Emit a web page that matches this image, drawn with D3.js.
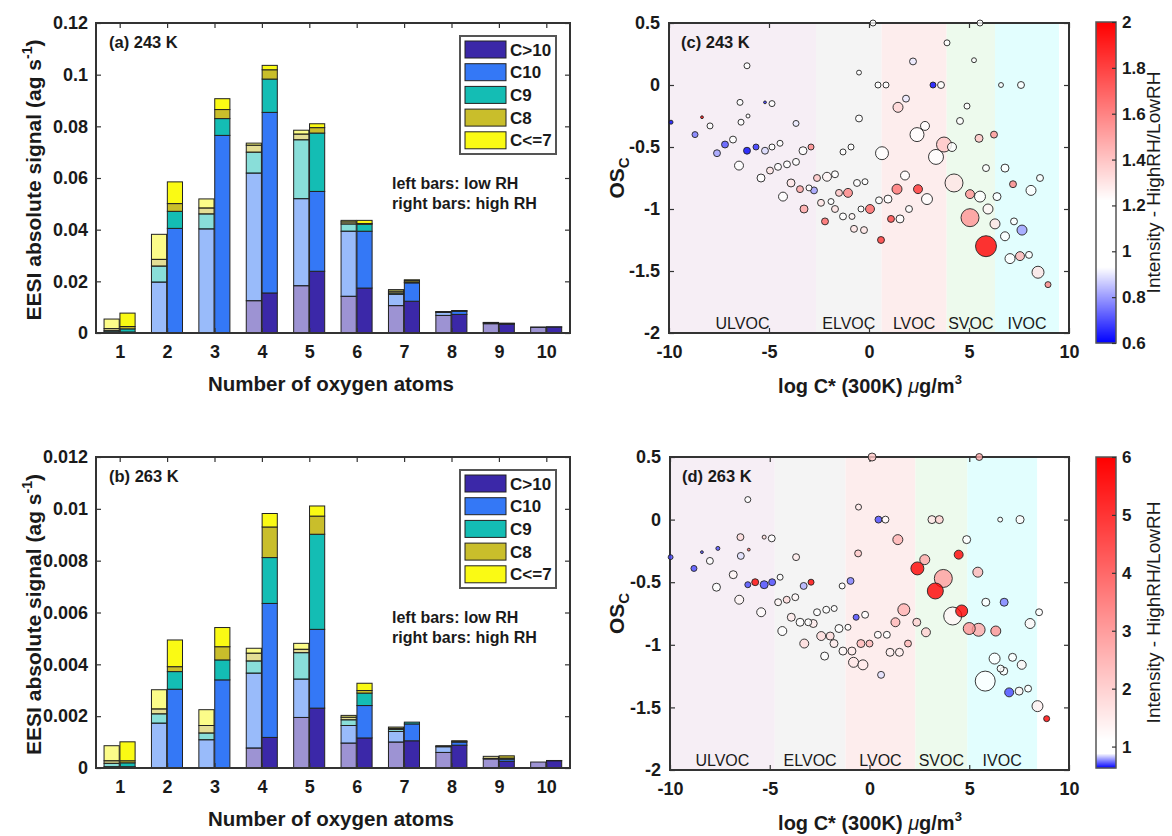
<!DOCTYPE html>
<html>
<head>
<meta charset="utf-8">
<script src="https://cdn.jsdelivr.net/npm/d3@7"></script>
<style>
  body { margin: 0; background: #fff; }
  text { font-family: "Liberation Sans", Arial, Helvetica, sans-serif; fill: #1a1a1a; }
</style>
</head>
<body>
<svg id="fig" width="1172" height="836"></svg>
<script>
// ---- bar data: rows = carbon groups (C>10, C10, C9, C8, C<=7), columns = number of O atoms 1..10
var oxygen = [1, 2, 3, 4, 5, 6, 7, 8, 9, 10];
var groups = ["C>10", "C10", "C9", "C8", "C<=7"];
var groupColors = ["#3b28a8", "#3478f6", "#14bdb4", "#c9be2b", "#fafa14"];

// (a) 243 K
var aLow = [
  [0.0002, 0, 0, 0.0125, 0.0183, 0.0142, 0.0106, 0.0068, 0.0036, 0.0022],
  [0.0002, 0.0197, 0.0403, 0.0494, 0.0337, 0.0252, 0.0044, 0.0012, 0.0004, 0.0001],
  [0.0005, 0.0062, 0.0058, 0.0081, 0.0228, 0.0028, 0.0005, 0.0001, 0.0001, 0],
  [0.0008, 0.0026, 0.0023, 0.0027, 0.0022, 0.0008, 0.0007, 0.0001, 0, 0],
  [0.0037, 0.0097, 0.0035, 0.0008, 0.0015, 0.0006, 0.0006, 0.0001, 0, 0]
];
var aHigh = [
  [0.0002, 0, 0, 0.0155, 0.0239, 0.0174, 0.0123, 0.0072, 0.0034, 0.0023],
  [0.0002, 0.0405, 0.0765, 0.0699, 0.0309, 0.0220, 0.0071, 0.0012, 0.0002, 0.0001],
  [0.0012, 0.0066, 0.0065, 0.0129, 0.0226, 0.0027, 0.0002, 0.0002, 0.0001, 0],
  [0.0009, 0.0030, 0.0035, 0.0036, 0.0021, 0.0003, 0.0006, 0.0001, 0.0001, 0],
  [0.0052, 0.0084, 0.0042, 0.0017, 0.0015, 0.0012, 0.0004, 0, 0, 0]
];
// (b) 263 K
var bLow = [
  [0.00002, 0, 0, 0.00077, 0.00195, 0.00096, 0.00100, 0.00060, 0.00035, 0.00023],
  [0.00003, 0.00173, 0.00109, 0.00289, 0.00148, 0.00068, 0.00041, 0.00022, 0.00002, 0],
  [0.00013, 0.00036, 0.00026, 0.00047, 0.00102, 0.00022, 0.00008, 0.00002, 0, 0],
  [0.00010, 0.00019, 0.00029, 0.00030, 0.00013, 0.00010, 0.00004, 0.00002, 0.00008, 0],
  [0.00058, 0.00074, 0.00061, 0.00019, 0.00023, 0.00007, 0.00005, 0, 0, 0]
];
var bHigh = [
  [0.00003, 0, 0, 0.00118, 0.00231, 0.00116, 0.00105, 0.00088, 0.00026, 0.00028],
  [0.00002, 0.00304, 0.00340, 0.00517, 0.00304, 0.00125, 0.00065, 0.00012, 0.00008, 0.00001],
  [0.00015, 0.00068, 0.00077, 0.00177, 0.00367, 0.00048, 0.00007, 0.00003, 0.00004, 0],
  [0.00008, 0.00019, 0.00051, 0.00118, 0.00070, 0.00010, 0, 0.00002, 0.00009, 0],
  [0.00073, 0.00103, 0.00074, 0.00052, 0.00039, 0.00028, 0, 0, 0, 0]
];
var aYTicks = [0, 0.02, 0.04, 0.06, 0.08, 0.1, 0.12];
var bYTicks = [0, 0.002, 0.004, 0.006, 0.008, 0.01, 0.012];

// ---- scatter data: log C*, OSc, signal (size), ratio HighRH/LowRH (colour)
var cX = [-9.9,-8.7,-8.35,-7.95,-7.6,-7.2,-6.8,-6.5,-6.45,-6.4,-6.1,-6.05,-6.1,-5.65,-5.4,-5.2,-5.2,-4.85,-4.85,-4.95,
  -4.45,-4.55,-4.3,-4.1,-3.9,-3.65,-3.65,-3.45,-3.3,-3.25,-3.0,-2.9,-2.75,-2.6,-2.4,-2.2,-2.1,-1.9,-1.7,-1.7,
  -1.5,-1.3,-1.3,-1.05,-0.9,-0.85,-0.75,-0.5,-0.5,-0.6,-0.25,-0.4,-0.2,0.05,0.2,0.45,0.65,0.5,0.6,0.85,
  0.95,1.4,1.8,1.1,1.55,2.0,1.45,1.85,2.2,2.4,2.8,2.45,2.9,3.2,3.6,3.35,3.75,4.15,3.9,4.25,
  4.55,4.9,5.25,5.55,5.5,6.25,5.05,5.55,5.05,5.85,5.85,5.95,6.3,6.4,6.6,6.8,6.8,7.2,7.25,7.6,
  7.65,8.1,8.55,7.05,7.55,8.0,8.45,8.95];
var cY = [-0.3,-0.4,-0.26,-0.33,-0.55,-0.48,-0.44,-0.65,-0.14,-0.3,0.155,-0.25,-0.53,-0.5,-0.75,-0.14,-0.53,-0.15,-0.5,-0.69,
  -0.47,-0.66,-0.9,-0.64,-0.79,-0.62,-0.31,-0.84,-0.53,-1.0,-0.83,-0.5,-0.85,-0.75,-0.95,-1.1,-0.74,-0.94,-0.72,-1.0,
  -0.87,-1.06,-0.54,-0.87,-0.5,-1.06,-1.16,-0.27,0.1,-0.79,-1.17,-1.0,-0.78,-1.0,0.5,0.0,-0.55,-0.93,-1.25,0.0,
  -0.92,-0.84,-0.73,-1.08,-1.08,-1.0,-0.18,-0.11,0.19,-0.4,-0.33,-0.84,-0.92,0.0,0.0,-0.58,-0.48,-0.5,0.34,-0.79,
  -0.29,-0.17,0.2,0.5,-0.43,-0.4,-0.88,-0.9,-1.07,-1.3,-0.67,-1.0,-1.12,-0.9,0.0,-0.67,-1.22,-0.8,-1.1,0.0,
  -1.17,-0.85,-0.75,-1.4,-1.38,-1.37,-1.51,-1.61];
var cSig = [4,9,2,9,12,12,12,20,9,9,9,4,12,9,16,2,12,9,9,12,
  9,12,20,12,16,12,9,12,16,16,9,9,12,12,12,12,20,9,12,12,
  12,12,9,20,9,9,12,12,6,12,12,9,9,20,9,9,42,12,12,9,
  16,25,20,12,16,12,25,12,12,49,20,20,30,9,12,56,56,20,9,81,
  12,9,6,9,16,12,20,30,81,110,12,25,25,16,6,16,20,12,12,12,
  25,25,12,25,20,12,36,9];
var cRatio = [0.6,0.75,2.0,1.1,0.8,0.7,1.1,1.1,1.1,1.1,1.1,1.1,0.6,0.65,1.1,0.65,0.88,1.1,1.1,1.3,
  1.1,1.1,1.1,1.1,1.3,1.1,0.9,1.5,1.0,1.5,1.1,1.6,0.8,1.4,1.3,1.7,1.25,1.1,1.1,1.3,
  1.4,1.1,1.1,1.6,1.1,1.25,1.3,1.1,1.1,1.1,1.3,1.1,1.1,1.7,1.1,1.1,1.1,1.1,1.85,1.1,
  1.1,1.65,1.1,1.8,1.1,1.1,1.35,0.9,0.9,1.1,1.1,1.85,1.1,0.6,1.1,1.1,1.4,1.15,1.1,1.3,
  1.1,1.1,1.1,1.1,1.4,1.55,1.55,1.1,1.55,2.0,1.1,1.25,1.3,1.1,1.1,1.1,1.1,1.6,1.1,1.1,
  0.8,1.1,1.1,1.15,1.45,1.1,1.3,1.6];

var dX = [-9.97,-8.8,-8.4,-8.0,-7.6,-7.67,-6.83,-6.53,-6.47,-6.45,-6.1,-6.05,-6.1,-5.73,-5.43,-5.28,-5.28,-4.9,-4.88,-4.48,
  -4.58,-4.37,-4.15,-3.92,-3.72,-3.68,-3.48,-3.3,-3.27,-3.07,-2.93,-2.82,-2.63,-2.42,-2.25,-2.17,-1.97,-1.77,-1.78,-1.53,
  -1.37,-1.33,-1.08,-0.95,-0.88,-0.8,-0.57,-0.55,-0.67,-0.33,-0.43,-0.22,0.0,0.13,0.45,0.8,1.42,0.58,0.42,0.87,
  1.03,1.5,1.93,1.3,1.72,2.4,2.77,2.37,2.83,3.13,3.5,3.7,3.3,4.17,4.62,4.47,4.87,5.0,5.47,5.43,
  5.5,5.83,6.33,6.75,6.55,7.55,6.27,6.57,6.73,7.17,7.63,5.8,7.0,7.5,7.95,8.05,8.5,8.42,8.88];
var dY = [-0.3,-0.39,-0.26,-0.33,-0.23,-0.54,-0.44,-0.64,-0.14,-0.29,0.16,-0.24,-0.52,-0.5,-0.74,-0.14,-0.52,-0.15,-0.5,-0.46,
  -0.66,-0.89,-0.64,-0.78,-0.62,-0.3,-0.82,-0.53,-0.99,-0.82,-0.5,-0.83,-0.74,-0.93,-1.09,-0.72,-0.93,-0.71,-0.99,-0.87,
  -0.53,-1.05,-0.86,-0.49,-1.05,-1.14,-0.27,0.1,-0.78,-1.16,-0.99,-0.76,-0.99,0.5,0.0,0.0,-0.16,-1.24,-0.92,-0.92,
  -1.06,-1.06,-0.99,-0.82,-0.72,-0.39,-0.32,-0.82,-0.9,0.0,0.0,-0.47,-0.57,-0.77,-0.73,-0.28,-0.16,-0.87,-0.88,-0.42,
  0.5,-0.66,-0.89,-0.66,0.0,0.0,-1.11,-1.19,-1.21,-1.1,-1.16,-1.29,-1.38,-1.37,-1.35,-0.83,-0.74,-1.49,-1.59];
var dSig = [6,9,2,12,4,16,16,20,12,12,9,2,9,12,20,4,16,12,12,9,
  12,20,12,16,12,12,16,12,20,12,9,16,12,20,16,12,16,9,16,16,
  9,16,9,12,16,25,12,9,9,25,16,12,12,16,12,12,25,12,12,12,
  16,16,12,20,36,42,25,16,20,16,16,81,64,81,36,20,16,36,42,25,
  12,16,25,16,6,16,30,12,16,16,20,100,20,16,12,25,12,30,9];
var dRatio = [0.7,0.7,0.7,1.05,0.7,1.05,1.3,1.3,1.8,0.85,1.05,4,0.7,6,1.2,1.8,0.7,1.1,0.7,1.05,
  1.3,1.05,1.8,1.5,1.3,1.5,1.1,0.8,1.8,1.1,6,1.5,1.1,1.8,1.1,1.1,1.8,1.1,1.5,1.1,
  1.1,1.3,1.1,0.75,1.5,1.6,2.2,1.5,0.7,1.5,2.5,1.1,2.5,2.2,0.7,1.2,2.6,0.85,1.1,1.1,
  1.4,1.4,2.5,2.5,2.6,6,2.8,2.0,2.0,1.6,2.0,3.0,6,1.3,6,6,1.1,3.2,2.8,2.5,
  2.8,1.1,3.2,0.75,1.1,1.2,1.1,1.1,1.1,1.1,1.3,1.1,0.7,1.3,1.1,1.3,1.1,1.4,6];

// volatility classes: edges in log C*
var bandNames = ["ULVOC", "ELVOC", "LVOC", "SVOC", "IVOC"];
var bandColors = ["#f6eef5", "#f4f4f4", "#fdeded", "#edfaed", "#e2fefe"];
var cBandEdges = [-10, -2.65, 0.63, 3.88, 6.3, 9.5];
var dBandEdges = [-10, -4.75, -1.2, 2.3, 4.9, 8.4];

var scatterXTicks = [-10, -5, 0, 5, 10];
var scatterYTicks = [0.5, 0, -0.5, -1, -1.5, -2];
var cBarTicks = [0.6, 0.8, 1, 1.2, 1.4, 1.6, 1.8, 2];
var dBarTicks = [1, 2, 3, 4, 5, 6];

var svg = d3.select("#fig");
var ink = "#1a1a1a";
// matlab-like labels: shortest form, plain hyphen for minus
var fmt = function (v) { return d3.format("~g")(v).replace("\u2212", "-"); };

function styleAxis(g, fontSize) {
  g.select(".domain").remove();
  g.selectAll(".tick line").attr("stroke", "#333").attr("stroke-width", 1.2);
  g.selectAll(".tick text").attr("font-size", fontSize).attr("font-weight", "bold")
    .attr("font-family", '"Liberation Sans", Arial, sans-serif').attr("fill", ink);
}

function frame(x0, x1, y0, y1) {
  svg.append("rect").attr("x", x0).attr("y", y0).attr("width", x1 - x0).attr("height", y1 - y0)
    .attr("fill", "none").attr("stroke", "#333").attr("stroke-width", 2);
}

// ---------- stacked bar panels ----------
function drawBars(low, high, yTicks, top, bottom, panelLabel) {
  var left = 96, right = 570;
  var x = d3.scaleLinear().domain([0.5, 10.5]).range([left, right]);
  var y = d3.scaleLinear().domain([0, yTicks[yTicks.length - 1]]).range([bottom, top]);
  var barW = x(0.32) - x(0);
  var g = svg.append("g");

  [[low, 0.5, -0.33], [high, 1, 0.005]].forEach(function (s) {
    var rows = oxygen.map(function (o, i) {
      var r = { o: o };
      groups.forEach(function (k, j) { r[k] = s[0][j][i]; });
      return r;
    });
    d3.stack().keys(groups)(rows).forEach(function (layer, j) {
      g.selectAll(null).data(layer).enter().append("rect")
        .attr("x", function (d) { return x(d.data.o + s[2]); })
        .attr("width", barW)
        .attr("y", function (d) { return y(d[1]); })
        .attr("height", function (d) { return y(d[0]) - y(d[1]); })
        .attr("fill", groupColors[j]).attr("fill-opacity", s[1])
        .attr("stroke", "#222").attr("stroke-width", 1);
    });
  });

  var ax = svg.append("g").attr("transform", "translate(0," + bottom + ")")
    .call(d3.axisBottom(x).tickValues(oxygen).tickSize(-5).tickPadding(12));
  styleAxis(ax, 18);
  var axT = svg.append("g").attr("transform", "translate(0," + top + ")")
    .call(d3.axisTop(x).tickValues(oxygen).tickSize(-5).tickFormat(""));
  styleAxis(axT, 18);
  var ay = svg.append("g").attr("transform", "translate(" + left + ",0)")
    .call(d3.axisLeft(y).tickValues(yTicks).tickSize(-5).tickPadding(8).tickFormat(fmt));
  styleAxis(ay, 18);
  var ayR = svg.append("g").attr("transform", "translate(" + right + ",0)")
    .call(d3.axisRight(y).tickValues(yTicks).tickSize(-5).tickFormat(""));
  styleAxis(ayR, 18);
  frame(left, right, top, bottom);

  svg.append("text").attr("x", 109).attr("y", top + 25).attr("font-size", 16.5)
    .attr("font-weight", "bold").text(panelLabel);

  // legend
  var lg = svg.append("g").attr("transform", "translate(460," + (top + 13) + ")");
  lg.append("rect").attr("width", 96).attr("height", 118).attr("fill", "#fff")
    .attr("stroke", "#555").attr("stroke-width", 2);
  groups.forEach(function (k, j) {
    lg.append("rect").attr("x", 5).attr("y", 5 + j * 22.7).attr("width", 41).attr("height", 17)
      .attr("fill", groupColors[j]).attr("stroke", "#222").attr("stroke-width", 1);
    lg.append("text").attr("x", 50).attr("y", 19.5 + j * 22.7).attr("font-size", 17)
      .attr("font-weight", "bold").text(k);
  });

  svg.append("text").attr("x", 392).attr("y", top + 166).attr("font-size", 16)
    .attr("font-weight", "bold").text("left bars: low RH");
  svg.append("text").attr("x", 392).attr("y", top + 186).attr("font-size", 16)
    .attr("font-weight", "bold").text("right bars: high RH");

  svg.append("text").attr("x", (left + right) / 2 - 2).attr("y", bottom + 58)
    .attr("text-anchor", "middle").attr("font-size", 20.5).attr("font-weight", "bold")
    .text("Number of oxygen atoms");

  var yl = svg.append("text").attr("transform", "translate(41," + ((top + bottom) / 2 + 2) + ") rotate(-90)")
    .attr("text-anchor", "middle").attr("font-size", 21).attr("font-weight", "bold");
  yl.append("tspan").text("EESI absolute signal (ag s");
  yl.append("tspan").attr("font-size", 14).attr("dy", -9).text("-1");
  yl.append("tspan").attr("dy", 9).text(")");
}

// ---------- scatter panels ----------
function drawScatter(X, Y, S, V, edges, top, bottom, left, panelLabel, color, barTicks, barTop, barBottom) {
  var right = 1069;
  var x = d3.scaleLinear().domain([-10, 10]).range([left, right]);
  var y = d3.scaleLinear().domain([-2, 0.5]).range([bottom, top]);
  var r = d3.scaleSqrt().domain([0, 100]).range([0, 10]);
  var g = svg.append("g");

  bandNames.forEach(function (n, i) {
    g.append("rect").attr("x", x(edges[i])).attr("y", top)
      .attr("width", x(edges[i + 1]) - x(edges[i])).attr("height", bottom - top)
      .attr("fill", bandColors[i]);
    g.append("text").attr("x", (x(edges[i]) + x(edges[i + 1])) / 2).attr("y", bottom - 4)
      .attr("text-anchor", "middle").attr("font-size", 16).attr("fill", "#333").text(n);
  });

  var ax = svg.append("g").attr("transform", "translate(0," + bottom + ")")
    .call(d3.axisBottom(x).tickValues(scatterXTicks).tickSize(-5).tickPadding(12).tickFormat(fmt));
  styleAxis(ax, 18);
  var axT = svg.append("g").attr("transform", "translate(0," + top + ")")
    .call(d3.axisTop(x).tickValues(scatterXTicks).tickSize(-5).tickFormat(""));
  styleAxis(axT, 18);
  var ay = svg.append("g").attr("transform", "translate(" + left + ",0)")
    .call(d3.axisLeft(y).tickValues(scatterYTicks).tickSize(-5).tickPadding(9).tickFormat(fmt));
  styleAxis(ay, 18);
  var ayR = svg.append("g").attr("transform", "translate(" + right + ",0)")
    .call(d3.axisRight(y).tickValues(scatterYTicks).tickSize(-5).tickFormat(""));
  styleAxis(ayR, 18);
  frame(left, right, top, bottom);

  var pts = X.map(function (v, i) { return { x: v, y: Y[i], s: S[i], v: V[i] }; })
    .sort(function (a, b) { return b.s - a.s; });
  svg.append("g").selectAll("circle").data(pts).enter().append("circle")
    .attr("cx", function (d) { return x(d.x); })
    .attr("cy", function (d) { return y(d.y); })
    .attr("r", function (d) { return r(d.s); })
    .attr("fill", function (d) { return color(d.v); })
    .attr("fill-opacity", 0.8)
    .attr("stroke", "#222").attr("stroke-width", 0.9);

  svg.append("text").attr("x", left + 12).attr("y", top + 25).attr("font-size", 16.5)
    .attr("font-weight", "bold").text(panelLabel);

  var yl = svg.append("text").attr("transform", "translate(624," + (top + bottom) / 2 + ") rotate(-90)")
    .attr("text-anchor", "middle").attr("font-size", 21).attr("font-weight", "bold");
  yl.append("tspan").text("OS");
  yl.append("tspan").attr("font-size", 15).attr("dy", 5).text("C");

  var xl = svg.append("text").attr("x", 870).attr("y", bottom + 60)
    .attr("text-anchor", "middle").attr("font-size", 20).attr("font-weight", "bold");
  xl.append("tspan").text("log C* (300K) ");
  xl.append("tspan").attr("font-style", "italic").attr("font-weight", "normal").text("\u03bc");
  xl.append("tspan").text("g/m");
  xl.append("tspan").attr("font-size", 13).attr("dy", -9).text("3");

  // colour bar
  var dom = color.domain();
  var cb = d3.scaleLinear().domain([dom[0], dom[dom.length - 1]]).range([barBottom, barTop]);
  var cg = svg.append("g");
  for (var py = barTop; py < barBottom; py++) {
    cg.append("rect").attr("x", 1096).attr("y", py).attr("width", 20).attr("height", 1.2)
      .attr("fill", color(cb.invert(py + 0.5)));
  }
  cg.append("rect").attr("x", 1096).attr("y", barTop).attr("width", 20).attr("height", barBottom - barTop)
    .attr("fill", "none").attr("stroke", "#555").attr("stroke-width", 1.5);
  var cax = svg.append("g").attr("transform", "translate(1116,0)")
    .call(d3.axisRight(cb).tickValues(barTicks).tickSize(-4).tickPadding(6).tickFormat(fmt));
  styleAxis(cax, 17);
  svg.append("text").attr("transform", "translate(1160," + (barTop + barBottom) / 2 + ") rotate(-90)")
    .attr("text-anchor", "middle").attr("font-size", 19).attr("fill", "#222")
    .text("Intensity - HighRH/LowRH");
}

var cColor = d3.scaleLinear().domain([0.6, 0.93, 1.22, 2]).range(["#0000ff", "#ffffff", "#ffffff", "#ff0000"]).clamp(true);
var dColor = d3.scaleLinear().domain([0.63, 0.88, 1.12, 6]).range(["#0000ff", "#ffffff", "#ffffff", "#ff0000"]).clamp(true);

drawBars(aLow, aHigh, aYTicks, 23, 333, "(a) 243 K");
drawBars(bLow, bHigh, bYTicks, 457, 768, "(b) 263 K");
drawScatter(cX, cY, cSig, cRatio, cBandEdges, 23, 333, 669, "(c) 243 K", cColor, cBarTicks, 22, 343);
drawScatter(dX, dY, dSig, dRatio, dBandEdges, 457, 770, 670, "(d) 263 K", dColor, dBarTicks, 457, 768);
</script>
</body>
</html>
